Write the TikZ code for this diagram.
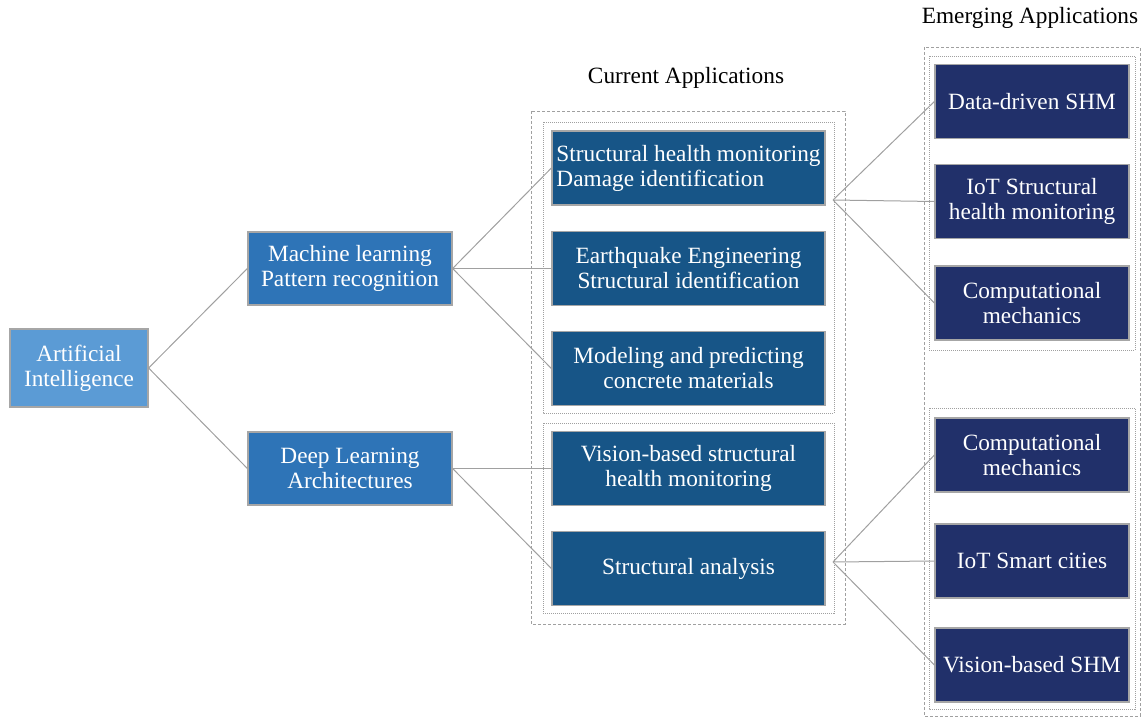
\documentclass[tikz,border=0pt]{standalone}
\usepackage{fontspec}
\setmainfont{Liberation Serif}
\definecolor{aiblue}{HTML}{5B9BD5}
\definecolor{mlblue}{HTML}{2E74B7}
\definecolor{curblue}{HTML}{175587}
\definecolor{emgblue}{HTML}{21306A}
\definecolor{edgegray}{HTML}{A6A6A6}
\definecolor{linegray}{HTML}{A0A0A0}
\tikzset{
  box/.style={draw=edgegray, line width=1.2pt, text=white, inner sep=0pt, align=center,
    font=\fontsize{23.3}{25}\selectfont},
  aibox/.style={box, fill=aiblue, minimum width=138pt, minimum height=78pt},
  mlbox/.style={box, fill=mlblue, minimum width=204pt, minimum height=73pt},
  curbox/.style={box, fill=curblue, minimum width=273pt, minimum height=74pt},
  emgbox/.style={box, fill=emgblue, minimum width=194pt, minimum height=74pt},
  link/.style={draw=linegray, line width=1pt},
  outerframe/.style={draw=linegray, line width=0.8pt, dash pattern=on 3pt off 2pt},
  innerframe/.style={draw=linegray, line width=0.8pt, dash pattern=on 1pt off 1pt},
  title/.style={font=\fontsize{23.3}{25}\selectfont, text=black, inner sep=0pt}
}
\begin{document}
\begin{tikzpicture}[x=1pt,y=-1pt]
\useasboundingbox (0,0) rectangle (1146,725);
% frames
\draw[outerframe] (531,111) rectangle (845,624);
\draw[innerframe] (543,122) rectangle (834,413);
\draw[innerframe] (543,423) rectangle (834,613);
\draw[outerframe] (924,47) rectangle (1140,716);
\draw[innerframe] (929,56) rectangle (1135,350);
\draw[innerframe] (929,408) rectangle (1135,709);
% titles
\node[title] (curtitle) at (686,78) {Current Applications};
\node[title] (emgtitle) at (1030,18) {Emerging Applications};
% nodes
\node[aibox] (AI) at (79,368) {Artificial\\Intelligence};
\node[mlbox] (ML) at (350,268.5) {Machine learning\\Pattern recognition};
\node[mlbox] (DL) at (350,468.5) {Deep Learning\\Architectures};
\node[curbox, align=left] (SHM) at (688.5,168) {Structural health monitoring\\Damage identification};
\node[curbox] (EE) at (688.5,268.5) {Earthquake Engineering\\Structural identification};
\node[curbox] (MOD) at (688.5,368.5) {Modeling and predicting\\concrete materials};
\node[curbox] (VIS) at (688.5,468.5) {Vision-based structural\\health monitoring};
\node[curbox] (SA) at (688.5,568.5) {Structural analysis};
\node[emgbox] (DD) at (1032,101.5) {Data-driven SHM};
\node[emgbox] (IOT1) at (1032,201.5) {IoT Structural\\health monitoring};
\node[emgbox] (CM1) at (1032,303) {Computational\\mechanics};
\node[emgbox] (CM2) at (1032,455) {Computational\\mechanics};
\node[emgbox] (IOT2) at (1032,561) {IoT Smart cities};
\node[emgbox] (VSHM) at (1032,665) {Vision-based SHM};
% connector hubs
\coordinate (shmout) at (833,200);
\coordinate (saout) at (833,562);
% links
\draw[link] (AI.east) -- (ML.west);
\draw[link] (AI.east) -- (DL.west);
\draw[link] (ML.east) -- (SHM.west);
\draw[link] (ML.east) -- (EE.west);
\draw[link] (ML.east) -- (MOD.west);
\draw[link] (DL.east) -- (VIS.west);
\draw[link] (DL.east) -- (SA.west);
\draw[link] (shmout) -- (DD.west);
\draw[link] (shmout) -- (IOT1.west);
\draw[link] (shmout) -- (CM1.west);
\draw[link] (saout) -- (CM2.west);
\draw[link] (saout) -- (IOT2.west);
\draw[link] (saout) -- (VSHM.west);
\end{tikzpicture}
\end{document}
